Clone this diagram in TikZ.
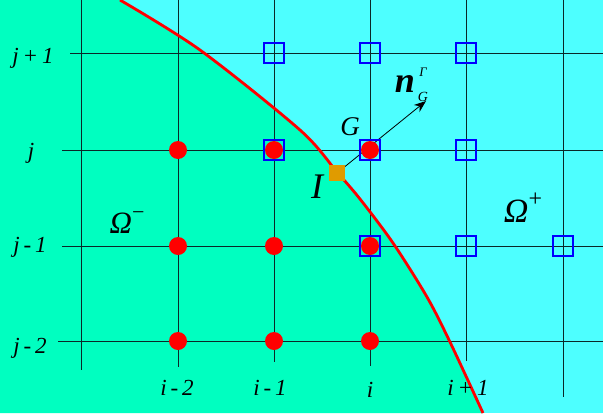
\documentclass[tikz,border=0pt]{standalone}
\usepackage{fontspec}
\setmainfont{Liberation Serif}
\usetikzlibrary{arrows.meta}
\definecolor{gminus}{RGB}{0,255,192}
\definecolor{cplus}{RGB}{77,255,255}
\definecolor{iorange}{RGB}{224,155,0}
\definecolor{gridc}{RGB}{10,40,40}
\tikzset{
  gridline/.style={draw=gridc, line width=1pt},
  reddot/.style={circle, fill=red, inner sep=0pt, minimum size=18pt},
  bluesq/.style={rectangle, draw=blue, line width=2pt, inner sep=0pt, minimum size=20pt},
  orsq/.style={rectangle, fill=iorange, inner sep=0pt, minimum size=16pt},
  lbl/.style={anchor=base, inner sep=0pt, font=\fontsize{23}{23}\selectfont\itshape},
}
\begin{document}
\begin{tikzpicture}[x=1pt, y=-1pt]
\useasboundingbox (0,0) rectangle (603,413);
% backgrounds
\fill[cplus] (0,0) rectangle (603,413);
\fill[gminus] (0,0) -- plot[smooth] coordinates {(120,0) (200,50) (300,130) (337,172) (360,199) (393,243) (427,297) (450,342) (483,413)} -- (0,413) -- cycle;
% grid
\foreach \x/\b in {81/370, 178/367, 274/362, 370/366, 466/361, 563/397}
  \draw[gridline] (\x,0) -- (\x,\b);
\foreach \y/\s in {53/70, 150/62, 246/62, 341/58}
  \draw[gridline] (\s,\y) -- (603,\y);
% interface
\draw[red, line width=2.8pt] plot[smooth] coordinates {(120,0) (200,50) (300,130) (337,172) (360,199) (393,243) (427,297) (450,342) (483,413)};
% normal
\coordinate (tip) at (426,101);
\node[orsq] (I) at (337,173) {};
\draw[line width=0.8pt, -{Stealth[length=12pt,width=9pt]}] (I.center) -- (tip);
% red dots
\foreach \x/\i in {178/a, 274/b, 370/c}
  \foreach \y/\j in {150/1, 246/2, 341/3}
    \node[reddot] (d\i\j) at (\x,\y) {};
% blue squares
\foreach \p/\n in {{274,53}/s1, {370,53}/s2, {466,53}/s3, {274,150}/s4, {370,150}/s5, {466,150}/s6, {370,246}/s7, {466,246}/s8, {563,246}/s9}
  \node[bluesq] (\n) at (\p) {};
\node[orsq] (I2) at (337,173) {};
% labels j
\node[lbl] (lj1) at (33,63) {j\,+\,1};
\node[lbl] (lj0) at (31,158) {j};
\node[lbl] (lj2) at (30,252) {j\,-\,1};
\node[lbl] (lj3) at (30,353) {j\,-\,2};
% labels i
\node[lbl] (li2) at (177,395) {i\,-\,2};
\node[lbl] (li1) at (270,395) {i\,-\,1};
\node[lbl] (li0) at (370,397) {i};
\node[lbl] (li3) at (468,395) {i\,+\,1};
% other labels
\node[lbl, font=\fontsize{27}{27}\selectfont\itshape] (lG) at (350,135) {G};
\node[lbl, font=\fontsize{36}{36}\selectfont\itshape] (lI) at (317,198) {I};
\node[lbl, font=\fontsize{31}{31}\selectfont\itshape] (om) at (127,233) {Ω\raisebox{0.45em}{\fontsize{22}{22}\selectfont\upshape −}};
\node[lbl, font=\fontsize{34}{34}\selectfont\itshape] (op) at (523,222) {Ω\raisebox{0.45em}{\fontsize{24}{24}\selectfont\upshape +}};
\node[lbl, font=\fontsize{36}{36}\selectfont\bfseries\itshape] (ln) at (405,92) {n};
\node[lbl, font=\fontsize{13}{13}\selectfont\itshape] (lgam) at (423,76) {Γ};
\node[lbl, font=\fontsize{14}{14}\selectfont\itshape] (lgs) at (423,101) {G};
\end{tikzpicture}
\end{document}
